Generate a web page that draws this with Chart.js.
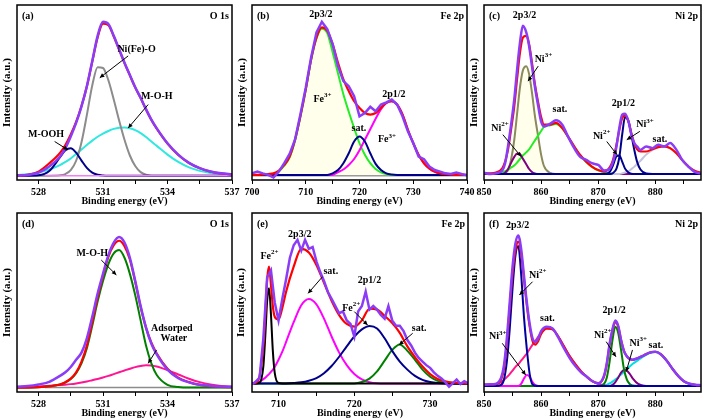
<!DOCTYPE html>
<html>
<head>
<meta charset="utf-8">
<script src="https://cdn.jsdelivr.net/npm/chart.js@4.4.0/dist/chart.umd.min.js"></script>
<style>
  body { margin: 0; background: #fff; }
  #fig { position: relative; width: 703px; height: 419px; overflow: hidden; background: #fff; }
  #fig canvas { position: absolute; }
</style>
</head>
<body>
<div id="fig">
  <canvas id="pa"></canvas>
  <canvas id="pb"></canvas>
  <canvas id="pc"></canvas>
  <canvas id="pd"></canvas>
  <canvas id="pe"></canvas>
  <canvas id="pf"></canvas>
</div>
<script>
// === O 1s (a, d) ===
const oX = [527, 527.5, 528, 528.5, 529, 529.25, 529.5, 529.75, 530, 530.25, 530.5, 530.75, 531, 531.25, 531.5, 531.75, 532, 532.25, 532.5, 532.75, 533, 533.25, 533.5, 534, 534.5, 535, 535.5, 536, 536.5, 537];
const oTicks = [528, 529.5, 531, 532.5, 534, 535.5, 537];
const oMajor = [528, 531, 534, 537];
const oBaseX = [528.3, 537];

const aData = [2.5, 2.9, 4.2, 7.7, 13.4, 18.2, 24.9, 32.6, 42.1, 53.6, 68, 82.4, 90.4, 89.1, 82.4, 74.7, 67, 60, 53, 47, 40.5, 34.5, 29.5, 21, 14.5, 9.8, 6.8, 4.9, 3.8, 3.2];
const aFit = [2.5, 2.9, 4.8, 9.5, 15.5, 20, 26, 33.2, 42.3, 53.5, 67.5, 81.5, 89.3, 88.5, 82, 74.5, 66.8, 59.8, 52.8, 46.8, 40.3, 34.3, 29.3, 20.8, 14.3, 9.7, 6.7, 4.8, 3.7, 3.1];
const aMOOH = [2.5, 2.5, 2.7, 5.1, 13, 17, 18.2, 15.6, 11.1, 6.9, 4.2, 3, 2.6, 2.5, 2.5, 2.5, 2.5, 2.5, 2.5, 2.5, 2.5, 2.5, 2.5, 2.5, 2.5, 2.5, 2.5, 2.5, 2.5, 2.5];
const aNiO = [2.5, 2.5, 2.5, 2.5, 2.7, 3.4, 5.6, 11, 21.6, 37.2, 54, 64.5, 64, 57, 46, 34, 23, 14, 8, 4.5, 3, 2.5, 2.5, 2.5, 2.5, 2.5, 2.5, 2.5, 2.5, 2.5];
const aMOH = [2.8, 3.3, 4.3, 6, 8.5, 10.3, 12.3, 14.8, 17.5, 20, 22.5, 24.7, 26.5, 28, 29.2, 29.9, 30, 29.6, 28.5, 26.8, 24.6, 22, 19.5, 14.5, 10.3, 7.2, 5.2, 4, 3.3, 2.9];
const aBase = [2.5, 2.5];

const dData = [2.9, 3.3, 4.2, 5.7, 9, 11, 14, 18, 22, 30, 42, 55, 66, 76.5, 83.5, 86.6, 83.5, 75, 62, 48, 36, 27, 21, 12.5, 7.7, 5.4, 4, 3.4, 3.1, 2.9];
const dFit = [2.5, 2.5, 2.7, 3.2, 4.2, 5.5, 7.5, 11, 17, 26, 39, 53, 65, 75.5, 82, 84.5, 81.5, 74, 61.5, 47.5, 36, 27.5, 21.5, 13, 8, 5.5, 4, 3.2, 2.9, 2.7];
const dMOH = [2.5, 2.5, 2.7, 3.2, 4.2, 5.3, 7.2, 10.5, 16, 24.5, 37, 50.5, 62, 71.5, 77.5, 79.3, 75, 66, 54, 40, 26, 16, 9.5, 4, 2.8, 2.5, 2.5, 2.5, 2.5, 2.5];
const dWater = [2.6, 2.8, 3.1, 3.5, 3.9, 4.1, 4.4, 4.8, 5.3, 5.9, 6.6, 7.3, 8.1, 9, 10, 11, 12, 13, 13.9, 14.5, 14.9, 14.8, 14.2, 12.2, 9.8, 7.4, 5.5, 4.2, 3.4, 3];
const dBase = [2.5, 2.5];

// === Fe 2p (b) ===
const bX = [700, 701, 702, 703, 704, 705, 706, 707, 708, 709, 710, 711, 712, 713, 714, 715, 716, 717, 718, 719, 720, 721, 722, 723, 724, 725, 726, 727, 728, 729, 730, 731, 732, 733, 734, 735, 736, 737, 738, 739, 740];
const bTicks = [700, 705, 710, 715, 720, 725, 730, 735, 740];
const bMajor = [700, 710, 720, 730, 740];
const bData = [3.8, 4.8, 3.8, 2.9, 1.5, 4.8, 9.6, 14.9, 23, 37.4, 52.7, 70, 84.3, 90.4, 86.2, 77.6, 65, 56.5, 53.6, 47.9, 36.4, 38.3, 41.8, 39.3, 43.1, 44.4, 46, 43.1, 36.4, 27.8, 21.1, 13.4, 11.9, 7.7, 5.7, 4.8, 3.8, 3.4, 4.2, 3.4, 2.7];
const bFit = [2.9, 2.9, 3.1, 3.4, 3.8, 5.4, 8.6, 13.4, 23, 36.4, 51.7, 69, 81.4, 87.2, 85.2, 77.6, 67, 57.5, 50.8, 45, 41.2, 38.3, 37.4, 38.3, 41.2, 44.1, 45, 43.1, 37.4, 28.7, 21.1, 14.4, 9.6, 6.7, 4.8, 3.8, 3.3, 3, 2.9, 2.9, 2.9];
const bFe3a = [2.9, 2.9, 2.9, 3, 3.5, 5, 8.2, 13, 22.5, 36, 51.5, 68.5, 81, 86.5, 84, 73, 61, 49, 39, 29.7, 21, 14.4, 9.6, 6.3, 4.4, 3.4, 2.9, 2.9, 2.9, 2.9, 2.9, 2.9, 2.9, 2.9, 2.9, 2.9, 2.9, 2.9, 2.9, 2.9, 2.9];
const bSat = [2.9, 2.9, 2.9, 2.9, 2.9, 2.9, 2.9, 2.9, 2.9, 2.9, 2.9, 2.9, 2.9, 2.9, 2.9, 3.8, 5.7, 9.6, 15.3, 22, 24.9, 22, 15.3, 9.2, 5.7, 3.8, 3.1, 2.9, 2.9, 2.9, 2.9, 2.9, 2.9, 2.9, 2.9, 2.9, 2.9, 2.9, 2.9, 2.9, 2.9];
const bFe3b = [2.9, 2.9, 2.9, 2.9, 2.9, 2.9, 2.9, 2.9, 2.9, 2.9, 2.9, 2.9, 2.9, 2.9, 2.9, 2.9, 4.5, 6, 8.6, 12, 17, 23, 29, 35, 40.5, 44, 45, 43, 37.4, 28.7, 21, 14.2, 9.5, 6.5, 4.6, 3.6, 3.1, 2.9, 2.9, 2.9, 2.9];
const bBaseX = [700, 740];
const bBase = [2.5, 2.5];

// === Ni 2p (c) ===
const niTicks = [850, 855, 860, 865, 870, 875, 880, 885];
const niMajor = [850, 860, 870, 880];
const cX = [850, 851.1, 852.1, 853.2, 853.7, 854.2, 854.7, 855.3, 855.8, 856.3, 856.8, 857.4, 857.9, 858.4, 858.9, 859.5, 860, 860.5, 861.6, 862.6, 863.7, 864.7, 865.8, 866.8, 867.9, 868.9, 870, 871.1, 872.1, 872.6, 873.2, 873.7, 874.2, 874.7, 875.3, 875.8, 876.3, 876.8, 877.4, 878.4, 879.5, 880.5, 881.6, 882.6, 883.7, 884.7, 885.8, 886.8, 887.9];
const cData = [4.2, 3.4, 3.8, 5.4, 9.6, 19.2, 30.6, 46, 63.2, 78.5, 88.1, 84.3, 76.6, 65.1, 53.6, 42.1, 33.5, 30.6, 32.2, 34.1, 31.6, 24.9, 18.2, 13.4, 11.5, 9.6, 8.6, 5.4, 6.7, 10.5, 19.2, 29.7, 37.4, 37.9, 33.5, 25.9, 21.1, 19.2, 17.2, 19.2, 18.2, 20.1, 19.2, 21.1, 17.2, 11.5, 7.7, 4.8, 3.8];
const cFit = [3.8, 3.8, 4.2, 6.7, 10.5, 17.2, 28, 42.1, 58, 72.8, 81.4, 82.4, 77.6, 67, 55, 44, 36, 31.6, 31.6, 32.6, 29.7, 24.9, 19.2, 14.4, 10.5, 7.7, 5.7, 4.8, 7.7, 11.5, 20.1, 28.7, 35.4, 36.8, 33.5, 26.8, 21.1, 17.6, 16.3, 16.3, 17.6, 18.8, 19.2, 18.2, 15.3, 11.5, 7.7, 5.4, 4.2];
const cNi3a = [3.4, 3.4, 3.4, 3.4, 4, 5.5, 11, 23, 38, 53, 62.5, 65, 60.5, 50, 37, 24.5, 14.5, 8, 4, 3.4, 3.4, 3.4, 3.4, 3.4, 3.4, 3.4, 3.4, 3.4, 3.4, 3.4, 3.4, 3.4, 3.4, 3.4, 3.4, 3.4, 3.4, 3.4, 3.4, 3.4, 3.4, 3.4, 3.4, 3.4, 3.4, 3.4, 3.4, 3.4, 3.4];
const cNi2a = [3.4, 3.4, 3.4, 3.4, 4.2, 6.2, 9.5, 13.2, 15.2, 14.8, 12.2, 9, 6.3, 4.6, 3.8, 3.4, 3.4, 3.4, 3.4, 3.4, 3.4, 3.4, 3.4, 3.4, 3.4, 3.4, 3.4, 3.4, 3.4, 3.4, 3.4, 3.4, 3.4, 3.4, 3.4, 3.4, 3.4, 3.4, 3.4, 3.4, 3.4, 3.4, 3.4, 3.4, 3.4, 3.4, 3.4, 3.4, 3.4];
const cSatA = [3.4, 3.4, 3.6, 4.4, 5, 5.8, 7, 8.3, 10, 12, 14, 15.8, 17.5, 20, 22.5, 25.5, 28, 30.3, 31.3, 32, 29.5, 24.7, 19, 14.2, 10.3, 7.5, 5.5, 4.4, 3.8, 3.4, 3.4, 3.4, 3.4, 3.4, 3.4, 3.4, 3.4, 3.4, 3.4, 3.4, 3.4, 3.4, 3.4, 3.4, 3.4, 3.4, 3.4, 3.4, 3.4];
const cNi3b = [3.4, 3.4, 3.4, 3.4, 3.4, 3.4, 3.4, 3.4, 3.4, 3.4, 3.4, 3.4, 3.4, 3.4, 3.4, 3.4, 3.4, 3.4, 3.4, 3.4, 3.4, 3.4, 3.4, 3.4, 3.4, 3.4, 3.4, 3.4, 3.4, 4, 6.5, 13, 26, 36, 33.5, 26, 17.5, 10.5, 6, 3.7, 3.4, 3.4, 3.4, 3.4, 3.4, 3.4, 3.4, 3.4, 3.4];
const cNi2b = [3.4, 3.4, 3.4, 3.4, 3.4, 3.4, 3.4, 3.4, 3.4, 3.4, 3.4, 3.4, 3.4, 3.4, 3.4, 3.4, 3.4, 3.4, 3.4, 3.4, 3.4, 3.4, 3.4, 3.4, 3.4, 3.4, 3.4, 3.4, 5, 8.5, 13.5, 14, 10.5, 6.5, 4.3, 3.6, 3.4, 3.4, 3.4, 3.4, 3.4, 3.4, 3.4, 3.4, 3.4, 3.4, 3.4, 3.4, 3.4];
const cSatB = [3.4, 3.4, 3.4, 3.4, 3.4, 3.4, 3.4, 3.4, 3.4, 3.4, 3.4, 3.4, 3.4, 3.4, 3.4, 3.4, 3.4, 3.4, 3.4, 3.4, 3.4, 3.4, 3.4, 3.4, 3.4, 3.4, 3.4, 3.4, 3.4, 3.4, 3.4, 3.4, 3.8, 4.3, 5, 6.2, 7.5, 9.2, 11, 14.5, 17.2, 18.7, 19.1, 18.1, 15.2, 11.3, 7.5, 5.2, 4];
const niBaseX = [850, 888];
const cBase = [3.4, 3.4];

// === Fe 2p (e) ===
const eTicks = [710, 715, 720, 725, 730];
const eMajor = [710, 720, 730];
const eX = [706.5, 707, 707.5, 708, 708.25, 708.5, 708.75, 709, 709.25, 709.5, 710, 710.5, 711, 712, 713, 714, 715, 716, 717, 718, 719, 720, 721, 722, 723, 724, 725, 726, 727, 728, 729, 730, 731, 732, 733, 734, 735];
const eFit = [4.8, 5.2, 9, 26, 43, 63, 70, 60, 48, 42, 40.5, 47, 56, 70, 80, 78, 71, 61, 51, 43, 38, 36.5, 40, 46.5, 46, 42.5, 38.5, 33, 25.5, 19.5, 14.2, 10, 7.3, 6, 5.3, 5, 4.8];
const eFe2a = [4.8, 4.8, 5.2, 14.5, 31, 51, 58, 43.5, 23, 10.7, 5, 4.8, 4.8, 4.8, 4.8, 4.8, 4.8, 4.8, 4.8, 4.8, 4.8, 4.8, 4.8, 4.8, 4.8, 4.8, 4.8, 4.8, 4.8, 4.8, 4.8, 4.8, 4.8, 4.8, 4.8, 4.8, 4.8];
const eSatA = [4.8, 5, 5.8, 7.2, 8, 9, 10, 11.2, 12.5, 14, 18, 22.5, 28, 39, 48.5, 52, 49, 41, 31, 22, 15, 10, 7, 5.5, 4.9, 4.8, 4.8, 4.8, 4.8, 4.8, 4.8, 4.8, 4.8, 4.8, 4.8, 4.8, 4.8];
const eFe2b = [4.8, 4.8, 4.8, 4.8, 4.8, 4.8, 4.8, 4.8, 4.8, 4.8, 4.8, 4.8, 4.8, 5, 5.4, 6.3, 7.8, 10.5, 14.5, 19.7, 25.5, 31, 35, 36.9, 35.5, 30, 23, 17, 12.5, 9, 6.8, 5.6, 5, 4.8, 4.8, 4.8, 4.8];
const eSatB = [4.8, 4.8, 4.8, 4.8, 4.8, 4.8, 4.8, 4.8, 4.8, 4.8, 4.8, 4.8, 4.8, 4.8, 4.8, 4.8, 4.8, 4.8, 4.8, 4.8, 4.8, 4.8, 5.6, 7.5, 11.5, 17.5, 23.5, 26.6, 23, 18, 12.5, 8.5, 6.2, 5.2, 4.9, 4.8, 4.8];
const eDataX = [706.5, 707, 707.5, 708, 708.5, 709, 709.5, 710, 710.5, 711, 711.5, 712, 712.5, 713, 713.5, 714, 714.5, 715, 715.5, 716, 716.5, 717, 717.5, 718, 718.5, 719, 719.5, 720, 720.5, 721, 721.5, 722, 722.5, 723, 723.5, 724, 724.5, 725, 725.5, 726, 726.5, 727, 727.5, 728, 728.5, 729, 729.5, 730, 730.5, 731, 731.5, 732, 732.5, 733, 733.5, 734, 734.5, 735];
const eData = [4.2, 5.8, 8, 30, 64, 68, 50, 40, 52, 63, 75, 82, 85, 79, 85, 80, 81, 73, 67, 62, 56, 52, 48, 44, 45, 40, 38, 31, 45, 48, 56, 46, 48, 46, 43, 41, 48, 40, 37, 37, 34, 29, 26, 22, 19, 17, 15, 13.5, 11, 9, 7.5, 5.5, 3, 5, 7, 4.5, 6, 5];

// === Ni 2p (f) ===
const fX = [850, 851, 852, 853, 853.5, 854, 854.5, 855, 855.5, 856, 856.5, 857, 857.5, 858, 858.5, 859, 859.5, 860, 861, 862, 863, 864, 865, 866, 867, 868, 869, 870, 871, 871.5, 872, 872.5, 873, 873.5, 874, 874.5, 875, 875.5, 876, 877, 878, 879, 880, 881, 882, 883, 884, 885, 886, 887, 888];
const fData = [4.1, 4.3, 4.5, 8, 15, 30, 50, 70, 83, 87.5, 80, 65, 50, 38, 30, 28, 30, 34, 36.5, 35.5, 30.5, 24.5, 19, 14.5, 11, 8.5, 6, 4.8, 9, 16, 27, 35, 40, 37, 29, 23, 20, 18.5, 18, 19, 20.5, 22, 22.5, 21, 17.5, 13, 9, 6, 4.6, 4, 3.8];
const fFit = [4.1, 4.2, 4.4, 7, 13, 27, 47, 66, 79, 84, 77.5, 63, 48.5, 36.5, 28.5, 26.5, 28.5, 32.5, 35.5, 35, 31, 25.5, 20, 15.5, 11.5, 8.5, 6, 5, 8.5, 15.5, 26.5, 34.5, 39, 36.5, 29, 23, 20, 18.5, 18, 19, 20.5, 22, 22.5, 21, 17.5, 13, 9, 6, 4.6, 4, 3.8];
const fNi2a = [3.4, 3.4, 3.4, 4, 7, 17, 35, 58, 76, 81.5, 66, 42, 24, 10, 4.2, 3.5, 3.4, 3.4, 3.4, 3.4, 3.4, 3.4, 3.4, 3.4, 3.4, 3.4, 3.4, 3.4, 3.4, 3.4, 3.4, 3.4, 3.4, 3.4, 3.4, 3.4, 3.4, 3.4, 3.4, 3.4, 3.4, 3.4, 3.4, 3.4, 3.4, 3.4, 3.4, 3.4, 3.4, 3.4, 3.4];
const fNi3a = [3.4, 3.4, 3.4, 3.4, 3.4, 3.4, 3.4, 3.4, 3.4, 3.4, 4.5, 7.5, 9.5, 8.5, 5.5, 3.8, 3.4, 3.4, 3.4, 3.4, 3.4, 3.4, 3.4, 3.4, 3.4, 3.4, 3.4, 3.4, 3.4, 3.4, 3.4, 3.4, 3.4, 3.4, 3.4, 3.4, 3.4, 3.4, 3.4, 3.4, 3.4, 3.4, 3.4, 3.4, 3.4, 3.4, 3.4, 3.4, 3.4, 3.4, 3.4];
const fSatA = [3.4, 3.5, 4, 5.5, 6.8, 8.3, 10, 12, 14, 15.5, 17.5, 19.5, 21.5, 24, 26.5, 28.5, 31, 33, 35.5, 35, 31, 25.5, 20, 15.5, 11.5, 8.5, 6, 4.5, 3.8, 3.4, 3.4, 3.4, 3.4, 3.4, 3.4, 3.4, 3.4, 3.4, 3.4, 3.4, 3.4, 3.4, 3.4, 3.4, 3.4, 3.4, 3.4, 3.4, 3.4, 3.4, 3.4];
const fNi2b = [3.4, 3.4, 3.4, 3.4, 3.4, 3.4, 3.4, 3.4, 3.4, 3.4, 3.4, 3.4, 3.4, 3.4, 3.4, 3.4, 3.4, 3.4, 3.4, 3.4, 3.4, 3.4, 3.4, 3.4, 3.4, 3.4, 3.4, 3.4, 4.5, 8, 17, 29, 36.5, 33, 23.5, 13, 7, 4.5, 3.6, 3.4, 3.4, 3.4, 3.4, 3.4, 3.4, 3.4, 3.4, 3.4, 3.4, 3.4, 3.4];
const fNi3b = [3.4, 3.4, 3.4, 3.4, 3.4, 3.4, 3.4, 3.4, 3.4, 3.4, 3.4, 3.4, 3.4, 3.4, 3.4, 3.4, 3.4, 3.4, 3.4, 3.4, 3.4, 3.4, 3.4, 3.4, 3.4, 3.4, 3.4, 3.4, 3.4, 3.4, 3.4, 4, 5.5, 8, 10.8, 12.3, 12, 10.2, 7.8, 4.5, 3.5, 3.4, 3.4, 3.4, 3.4, 3.4, 3.4, 3.4, 3.4, 3.4, 3.4];
const fSatB = [3.4, 3.4, 3.4, 3.4, 3.4, 3.4, 3.4, 3.4, 3.4, 3.4, 3.4, 3.4, 3.4, 3.4, 3.4, 3.4, 3.4, 3.4, 3.4, 3.4, 3.4, 3.4, 3.4, 3.4, 3.4, 3.4, 3.4, 3.4, 3.6, 4, 4.8, 5.8, 7, 8.3, 9.8, 11.3, 12.8, 14.2, 15.6, 17.8, 20, 21.8, 22.4, 21, 17.5, 13, 9, 6, 4.6, 3.9, 3.6];

// panel geometry: canvas box and plot area, in page pixels
const frames = {
  a: { box: [0, 0, 246, 211], area: [17, 5, 232, 180], yt: 1.5, xt: 5 },
  b: { box: [232, 0, 252, 211], area: [252, 5, 467, 180], yt: 5, xt: 5 },
  c: { box: [466, 0, 237, 211], area: [484, 5, 701, 180], yt: 3, xt: 5 },
  d: { box: [0, 211, 246, 208], area: [17, 213, 232, 392], yt: 1.5, xt: 1 },
  e: { box: [232, 211, 252, 208], area: [252, 213, 468, 392], yt: 3.5, xt: 1 },
  f: { box: [466, 211, 237, 208], area: [484, 213, 701, 392], yt: 3, xt: 1 }
};

const SERIF = '"Liberation Serif", "Times New Roman", serif';
const PURPLE = '#8b3cf7', RED = '#ff0000', NAVY = '#00008b';

function line(xs, ys, color, width, extra) {
  return Object.assign({
    data: xs.map((x, i) => ({ x: x, y: ys[i] })),
    borderColor: color,
    borderWidth: width,
    pointRadius: 0,
    cubicInterpolationMode: 'monotone',
    fill: false
  }, extra || {});
}

function arrow(ctx, x1, y1, x2, y2) {
  const ang = Math.atan2(y2 - y1, x2 - x1);
  ctx.beginPath(); ctx.moveTo(x1, y1); ctx.lineTo(x2, y2); ctx.stroke();
  ctx.beginPath();
  ctx.moveTo(x2, y2);
  ctx.lineTo(x2 - 5 * Math.cos(ang - 0.45), y2 - 5 * Math.sin(ang - 0.45));
  ctx.lineTo(x2 - 5 * Math.cos(ang + 0.45), y2 - 5 * Math.sin(ang + 0.45));
  ctx.closePath(); ctx.fill();
}

function note(ctx, text, x, y) {
  const parts = text.split('^');
  ctx.font = 'bold 10px ' + SERIF;
  const w1 = ctx.measureText(parts[0]).width;
  let w2 = 0;
  if (parts[1]) { ctx.font = 'bold 7px ' + SERIF; w2 = ctx.measureText(parts[1]).width; }
  const x0 = x - (w1 + w2) / 2;
  ctx.textAlign = 'left';
  ctx.textBaseline = 'middle';
  ctx.font = 'bold 10px ' + SERIF;
  ctx.fillText(parts[0], x0, y);
  if (parts[1]) { ctx.font = 'bold 7px ' + SERIF; ctx.fillText(parts[1], x0 + w1, y - 4); }
}

function decorate(deco) {
  return {
    id: 'decorate',
    afterDraw(chart) {
      const { ctx, chartArea: a, scales } = chart;
      const px = v => scales.x.getPixelForValue(v), py = v => scales.y.getPixelForValue(v);
      ctx.save();
      ctx.strokeStyle = '#000';
      ctx.fillStyle = '#000';
      ctx.lineWidth = 1.5;
      ctx.strokeRect(a.left, a.top, a.right - a.left, a.bottom - a.top);
      ctx.font = 'bold 10px ' + SERIF;
      ctx.textBaseline = 'middle';
      ctx.textAlign = 'left';
      ctx.fillText(deco.tag, a.left + 5, a.top + 11);
      ctx.textAlign = 'right';
      ctx.fillText(deco.name, a.right - 3, a.top + 11);
      ctx.lineWidth = 1;
      (deco.arrows || []).forEach(r => arrow(ctx, px(r[0]), py(r[1]), px(r[2]), py(r[3])));
      (deco.notes || []).forEach(n => note(ctx, n.t, px(n.x), py(n.y)));
      ctx.restore();
    }
  };
}

function makePanel(id, f, xMin, xMax, ticks, majors, datasets, deco) {
  const cv = document.getElementById(id);
  const [bx, by, bw, bh] = f.box;
  const [l, t, r, b] = f.area;
  cv.width = bw; cv.height = bh;
  cv.style.left = bx + 'px'; cv.style.top = by + 'px';
  const yW = l - bx, xH = by + bh - b;
  return new Chart(cv, {
    type: 'line',
    data: { datasets: datasets },
    plugins: [decorate(deco)],
    options: {
      responsive: false, animation: false, devicePixelRatio: 1, events: [],
      layout: { autoPadding: false, padding: { left: 0, top: t - by, right: bx + bw - r, bottom: 0 } },
      plugins: { legend: { display: false }, tooltip: { enabled: false } },
      scales: {
        x: {
          type: 'linear', min: xMin, max: xMax,
          afterBuildTicks: s => { s.ticks = ticks.map(v => ({ value: v })); },
          afterFit: s => { s.height = xH; },
          ticks: {
            autoSkip: false, maxRotation: 0, padding: 2, color: '#000',
            font: { family: SERIF, size: 10, weight: 'bold' },
            callback: v => majors.includes(v) ? String(v) : ''
          },
          grid: { display: true, drawOnChartArea: false, drawTicks: true, tickLength: 4, color: '#000', lineWidth: 1 },
          border: { display: false },
          title: {
            display: true, text: 'Binding energy (eV)', color: '#000',
            font: { family: SERIF, size: 10, weight: 'bold', lineHeight: 1 },
            padding: { top: 0, bottom: f.xt }
          }
        },
        y: {
          min: 0, max: 100,
          afterFit: s => { s.width = yW; },
          ticks: { display: false },
          grid: { display: false, drawTicks: false },
          border: { display: false },
          title: {
            display: true, text: 'Intensity (a.u.)', color: '#000',
            font: { family: SERIF, size: 11, weight: 'bold', lineHeight: 1 },
            padding: { top: f.yt, bottom: 0 }
          }
        }
      }
    }
  });
}

const yellowFill = 'rgba(255, 255, 170, 0.22)';

makePanel('pa', frames.a, 527, 537, oTicks, oMajor, [
  line(oX, aData, PURPLE, 2.5),
  line(oX, aFit, RED, 2.2),
  line(oBaseX, aBase, '#f080f0', 1.5),
  line(oX, aMOOH, NAVY, 2),
  line(oX, aNiO, '#8c8c8c', 2),
  line(oX, aMOH, '#30e8e0', 2)
], {
  tag: '(a)', name: 'O 1s',
  notes: [{ t: 'Ni(Fe)-O', x: 532.56, y: 74.7 }, { t: 'M-O-H', x: 533.5, y: 48 }, { t: 'M-OOH', x: 528.35, y: 26 }],
  arrows: [[532.17, 70.9, 530.85, 58.4], [533.1, 43.1, 532.17, 29.7], [528.75, 22, 529.37, 17.2]]
});

makePanel('pb', frames.b, 700, 740, bTicks, bMajor, [
  line(bX, bData, PURPLE, 2.5, { cubicInterpolationMode: 'default', tension: 0 }),
  line(bX, bFit, RED, 2.2),
  line(bX, bSat, NAVY, 2),
  line(bX, bFe3b, '#ff00ff', 2),
  line(bX, bFe3a, '#22ee22', 2, { fill: { value: 2.9 }, backgroundColor: yellowFill }),
  line(bBaseX, bBase, '#9a9a9a', 1.5)
], {
  tag: '(b)', name: 'Fe 2p',
  notes: [{ t: '2p3/2', x: 712.8, y: 94.8 }, { t: 'Fe^3+', x: 713.1, y: 46 }, { t: '2p1/2', x: 726.4, y: 49 },
          { t: 'sat.', x: 719.9, y: 29.7 }, { t: 'Fe^3+', x: 725.1, y: 23 }],
  arrows: []
});

makePanel('pc', frames.c, 850, 888, niTicks, niMajor, [
  line(cX, cData, PURPLE, 2.5),
  line(cX, cFit, RED, 2.2),
  line(cX, cNi3b, NAVY, 2),
  line(cX, cNi2b, NAVY, 2),
  line(cX, cSatB, '#c4c4de', 2),
  line(cX, cNi2a, '#800080', 2),
  line(cX, cSatA, '#22ee22', 2),
  line(cX, cNi3a, '#8a8a5c', 2, { fill: { value: 3.4 }, backgroundColor: yellowFill }),
  line(niBaseX, cBase, NAVY, 1.5)
], {
  tag: '(c)', name: 'Ni 2p',
  notes: [{ t: '2p3/2', x: 857.1, y: 94 }, { t: 'Ni^3+', x: 860.4, y: 69 }, { t: 'sat.', x: 863.3, y: 40.2 },
          { t: 'Ni^2+', x: 852.8, y: 29.7 }, { t: '2p1/2', x: 874.4, y: 44 }, { t: 'Ni^2+', x: 870.6, y: 25 },
          { t: 'Ni^3+', x: 878.2, y: 31.6 }, { t: 'sat.', x: 880.8, y: 23 }],
  arrows: [[859.5, 65.1, 857.7, 56.5], [853.3, 25.9, 856.5, 13.4], [871.5, 22, 873.3, 14.4], [877.3, 27.8, 875, 23]]
});

makePanel('pd', frames.d, 527, 537, oTicks, oMajor, [
  line(oX, dData, PURPLE, 2.5),
  line(oX, dFit, RED, 2.2),
  line(oX, dMOH, '#008000', 2),
  line(oX, dWater, '#ff1493', 2),
  line(oBaseX, dBase, '#8c8c8c', 1.5)
], {
  tag: '(d)', name: 'O 1s',
  notes: [{ t: 'M-O-H', x: 530.5, y: 77.3 }, { t: 'Adsorped', x: 534.2, y: 35.6 }, { t: 'Water', x: 534.3, y: 30 }],
  arrows: [[530.92, 73.7, 531.62, 65.4], [533.49, 23.5, 533.1, 16]]
});

makePanel('pe', frames.e, 706.5, 735, eTicks, eMajor, [
  line(eDataX, eData, PURPLE, 2.5, { cubicInterpolationMode: 'default', tension: 0 }),
  line(eX, eFit, RED, 2.2),
  line(eX, eFe2a, '#000000', 2),
  line(eX, eFe2b, NAVY, 2),
  line(eX, eSatB, '#008000', 2),
  line(eX, eSatA, '#ff00ff', 2)
], {
  tag: '(e)', name: 'Fe 2p',
  notes: [{ t: 'Fe^2+', x: 708.8, y: 75.6 }, { t: '2p3/2', x: 712.8, y: 88 }, { t: 'sat.', x: 716.9, y: 67.2 },
          { t: '2p1/2', x: 722, y: 62.6 }, { t: 'Fe^2+', x: 719.6, y: 46.7 }, { t: 'sat.', x: 728.55, y: 35.6 }],
  arrows: [[715.8, 64.4, 713.9, 55.1], [720, 44.9, 721.75, 37.4], [727.7, 32.8, 725.9, 26.3]]
});

makePanel('pf', frames.f, 850, 888, niTicks, niMajor, [
  line(fX, fData, PURPLE, 2.5),
  line(fX, fFit, RED, 2.2),
  line(fX, fNi2a, '#0000a0', 2),
  line(fX, fNi3a, '#ff00ff', 2),
  line(fX, fNi2b, '#008000', 2),
  line(fX, fNi3b, '#800080', 2),
  line(fX, fSatA, '#ff1a8c', 2),
  line(fX, fSatB, '#00e0e0', 2)
], {
  tag: '(f)', name: 'Ni 2p',
  notes: [{ t: '2p3/2', x: 855.9, y: 93.3 }, { t: 'Ni^2+', x: 859.4, y: 65.4 }, { t: 'sat.', x: 861.1, y: 41.2 },
          { t: 'Ni^3+', x: 852.4, y: 30.9 }, { t: '2p1/2', x: 872.8, y: 45.8 }, { t: 'Ni^2+', x: 870.8, y: 31.8 },
          { t: 'Ni^3+', x: 877, y: 27.2 }, { t: 'sat.', x: 880.1, y: 26.3 }],
  arrows: [[858.5, 61.6, 856.2, 54.2], [853.2, 27.2, 857.3, 9.5], [871.4, 28.1, 873.1, 19.7], [876, 23.5, 874.9, 11.4]]
});
</script>
</body>
</html>
